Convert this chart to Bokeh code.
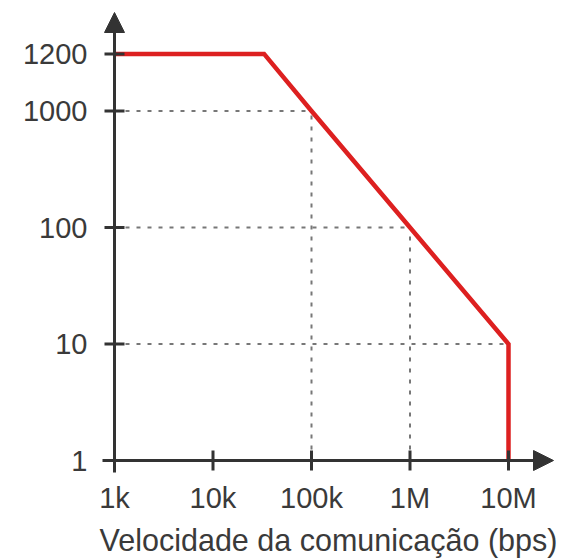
import numpy as np
from bokeh.plotting import figure
from bokeh.models import FixedTicker, Range1d, Arrow, NormalHead
from bokeh.embed import file_html
from bokeh.resources import INLINE

# ---- data ----
bps = [1e3, 3.3e4, 1e5, 1e6, 1e7, 1e7]           # communication speed (bps)
length_m = [1200, 1200, 1000, 100, 10, 1]         # max cable length
x_ticks = [1e3, 1e4, 1e5, 1e6, 1e7]
x_tick_labels = ["1k", "10k", "100k", "1M", "10M"]
y_ticks = [1, 10, 100, 1000, 1200]
y_tick_labels = ["1", "10", "100", "1000", "1200"]
guide_bps = [1e5, 1e6, 1e7]
guide_len = [1000, 100, 10]

# ---- y scale: log decades, with the 1200 tick stretched above 1000 ----
Y_TICK_POS = [0, 1, 2, 3, 3.49]
def ypos(v):
    return np.interp(np.log10(np.asarray(v, dtype=float)), np.log10(y_ticks), Y_TICK_POS)

PX_X = 98.5    # pixels per decade (x)
PX_Y = 116.5   # pixels per decade (y)
FW, FH = 456, 465
X0 = 10 ** (3 - 14 / PX_X)
X_END = 10 ** (3 + 442 / PX_X)
X_TIP = 10 ** (3 + 439 / PX_X)
Y0 = -14 / PX_Y
Y_END = 451 / PX_Y
Y_TIP = 448 / PX_Y

INK = "#333333"
TXT = "#3a3a3a"
RED = "#dd2020"
FONT = "Liberation Sans"

p = figure(frame_width=FW, frame_height=FH, x_axis_type="log",
           x_range=Range1d(X0, X_END), y_range=Range1d(Y0, Y_END),
           output_backend="svg", toolbar_location=None,
           min_border_left=100, min_border_right=2, min_border_top=9, min_border_bottom=10)
p.outline_line_color = None
p.grid.visible = False
p.background_fill_color = "white"

# dotted guides
for b, l in zip(guide_bps, guide_len):
    p.line([1e3, b], list(ypos([l, l])), line_color="#777777", line_width=2, line_dash="4 7")
    p.line([b, b], list(ypos([1, l])), line_color="#777777", line_width=2, line_dash="4 7")

# red curve
p.line(bps, ypos(length_m), line_color=RED, line_width=4.5, line_join="miter")

# axis lines with arrow heads
p.add_layout(Arrow(x_start=1e3, y_start=Y0 + 2 / PX_Y, x_end=1e3, y_end=Y_TIP,
                   line_color=INK, line_width=3,
                   end=NormalHead(size=20, fill_color=INK, line_color=INK)))
p.add_layout(Arrow(x_start=X0 * 10 ** (2 / PX_X), y_start=0, x_end=X_TIP, y_end=0,
                   line_color=INK, line_width=3,
                   end=NormalHead(size=20, fill_color=INK, line_color=INK)))

# tick marks crossing the axes
p.scatter(x_ticks[1:], [0] * 4, marker="dash", angle=np.pi / 2, size=20,
          line_color=INK, line_width=3)
p.scatter([1e3] * 4, list(ypos(y_ticks[1:])), marker="dash", size=20,
          line_color=INK, line_width=3)

# axes: labels only
for ax in (p.xaxis[0], p.yaxis[0]):
    ax.axis_line_color = None
    ax.major_tick_line_color = None
    ax.minor_tick_line_color = None
    ax.major_tick_in = 0
    ax.major_tick_out = 0
    ax.major_label_text_font = FONT
    ax.major_label_text_font_size = "29px"
    ax.major_label_text_color = TXT

p.xaxis.ticker = FixedTicker(ticks=x_ticks)
p.xaxis.major_label_overrides = {int(t): s for t, s in zip(x_ticks, x_tick_labels)}
p.xaxis.major_label_standoff = 7
p.xaxis.axis_label = "Velocidade da comunicação (bps)"
p.xaxis.axis_label_text_font = FONT
p.xaxis.axis_label_text_font_size = "30.5px"
p.xaxis.axis_label_text_font_style = "normal"
p.xaxis.axis_label_text_color = TXT
p.xaxis.axis_label_standoff = 6

p.yaxis.ticker = FixedTicker(ticks=list(Y_TICK_POS))
p.yaxis.major_label_overrides = {pos: s for pos, s in zip(Y_TICK_POS, y_tick_labels)}
p.yaxis.major_label_standoff = 13

open("out.html", "w").write(file_html(p, INLINE))
